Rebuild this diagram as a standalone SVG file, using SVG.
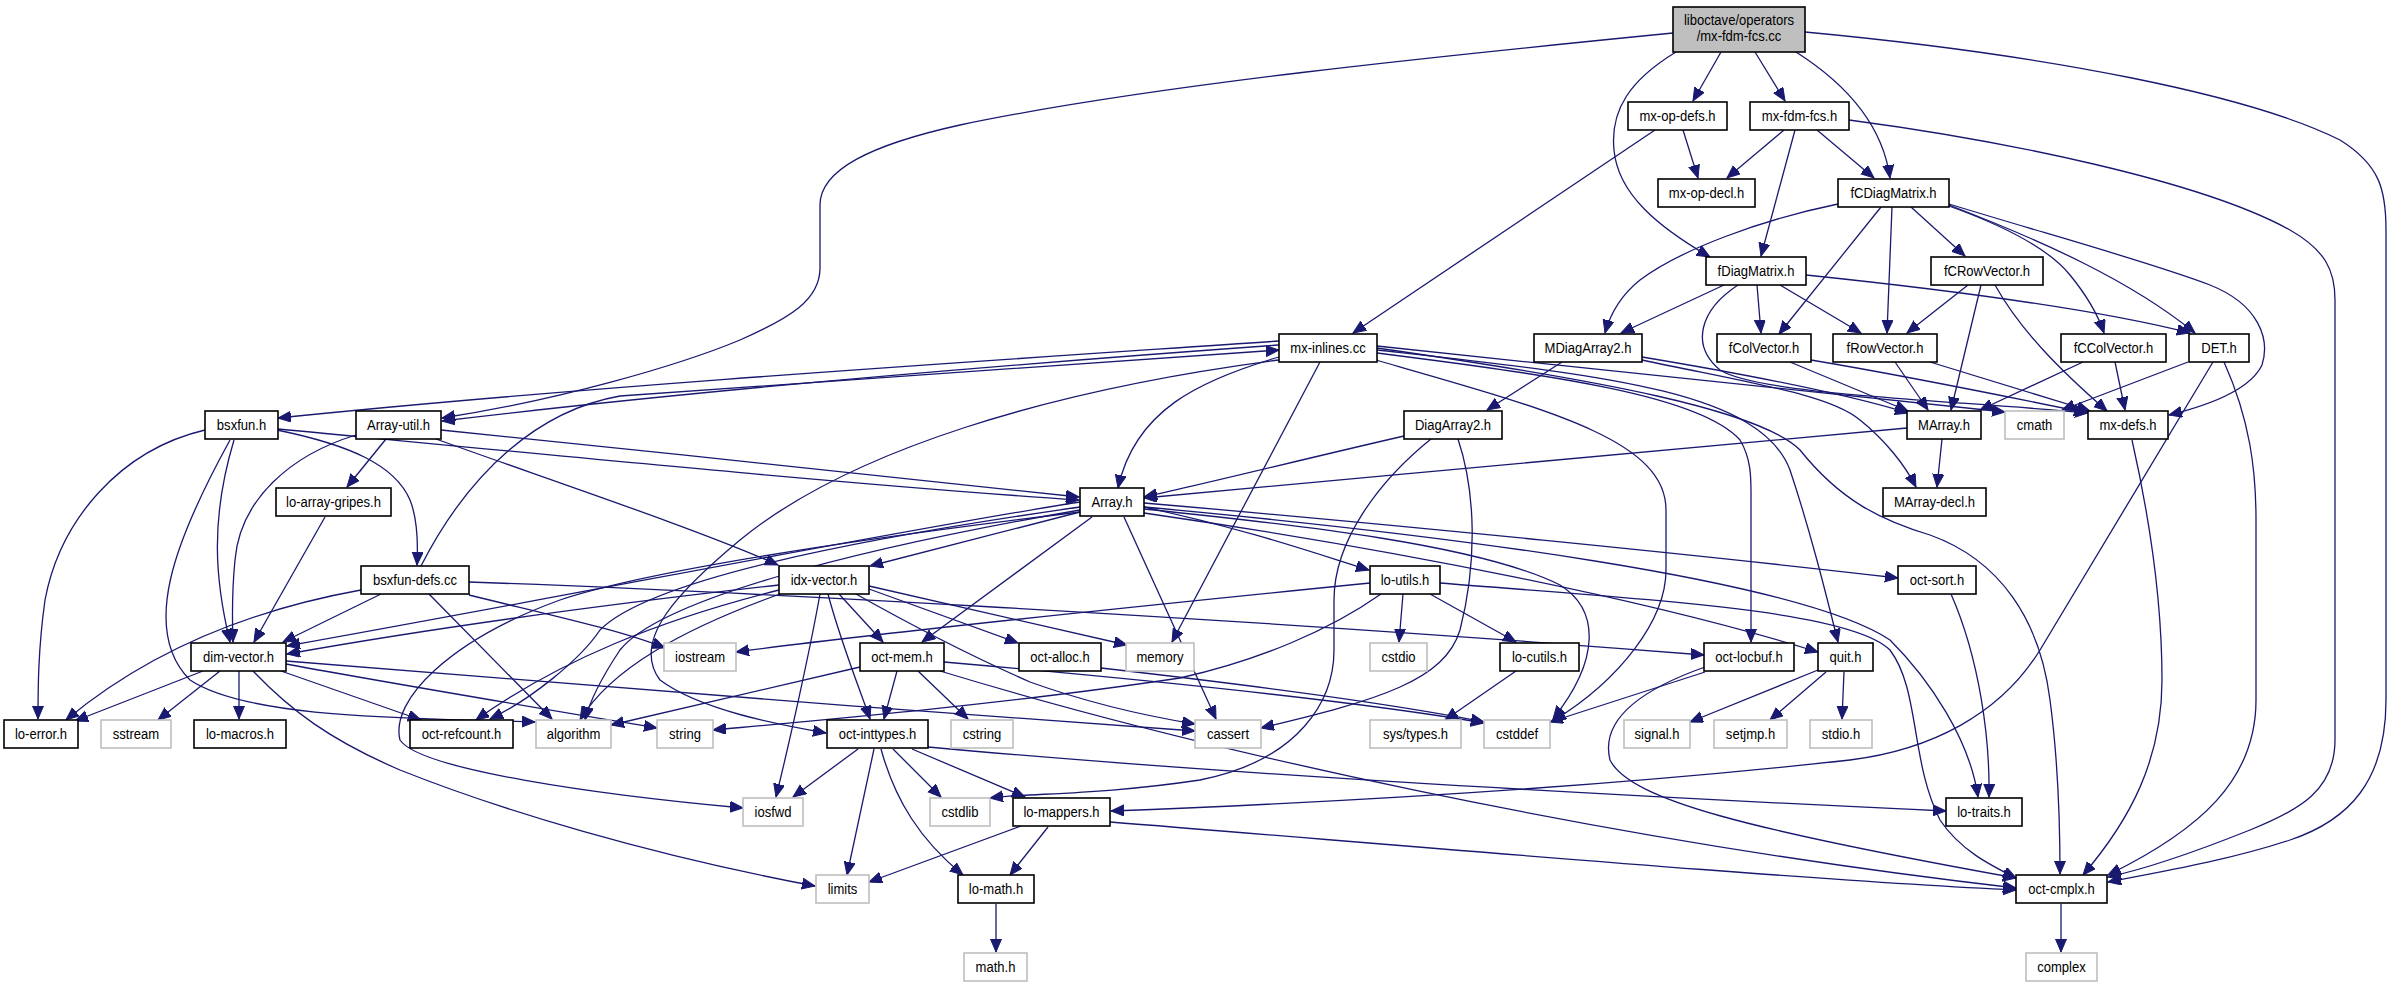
<svg xmlns="http://www.w3.org/2000/svg" width="2392" height="987" viewBox="0 0 2392 987">
<style>
.n rect{fill:#ffffff;stroke:#000000;stroke-width:1.6}
.g rect{fill:#ffffff;stroke:#bfbfbf;stroke-width:1.6}
.m rect{fill:#bfbfbf;stroke:#000000;stroke-width:1.6}
text{font-family:"Liberation Sans",Arial,Helvetica,sans-serif;font-size:14.5px;fill:#000000;text-anchor:middle}
#edges path{fill:none;stroke:#191970;stroke-width:1.3;marker-end:url(#arr)}
</style>
<defs>
<marker id="arr" markerUnits="userSpaceOnUse" markerWidth="15" markerHeight="13" refX="13" refY="5.5" orient="auto">
<path d="M0,0 L13,5.5 L0,11 Z" fill="#191970" stroke="#191970" stroke-width="1"/>
</marker>
</defs>
<rect x="0" y="0" width="2392" height="987" fill="#ffffff"/>
<g id="edges">
<path d="M1721,52 L1693,101"/>
<path d="M1755,52 L1785,101"/>
<path d="M1796,52 C1840,80 1882,120 1890,178"/>
<path d="M1676,52 C1630,80 1610,110 1614,150 C1618,195 1660,228 1710,257"/>
<path d="M1673,33 C1450,55 1150,85 960,125 C870,145 820,170 820,205 L820,268 C820,300 790,318 740,340 C680,365 560,400 442,418"/>
<path d="M1805,32 C2050,55 2250,95 2340,140 C2380,165 2386,190 2386,230 L2386,700 C2386,780 2350,820 2290,840 C2230,860 2160,872 2108,882"/>
<path d="M1683,130 L1698,178"/>
<path d="M1655,130 L1353,333"/>
<path d="M1784,130 L1727,178"/>
<path d="M1817,130 L1874,178"/>
<path d="M1795,130 L1761,256"/>
<path d="M1849,120 C2000,140 2200,180 2290,230 C2325,250 2335,270 2335,300 L2335,740 C2335,790 2300,810 2250,830 C2200,850 2150,868 2108,877"/>
<path d="M1838,204 C1760,220 1680,250 1640,280 C1620,296 1610,315 1605,333"/>
<path d="M1881,207 L1779,334"/>
<path d="M1892,207 L1887,333"/>
<path d="M1911,207 L1965,256"/>
<path d="M1949,206 C2010,228 2050,250 2070,275 C2088,297 2098,315 2104,333"/>
<path d="M1949,205 C2040,240 2130,280 2195,333"/>
<path d="M1949,204 C2050,235 2150,262 2210,285 C2260,305 2270,340 2262,365 C2250,390 2210,405 2169,415"/>
<path d="M1724,285 L1621,333"/>
<path d="M1757,285 L1761,333"/>
<path d="M1780,285 L1861,333"/>
<path d="M1806,275 C1950,290 2100,310 2190,333"/>
<path d="M1738,285 C1700,310 1690,345 1720,370 C1760,395 1950,400 2088,413"/>
<path d="M1968,285 L1907,333"/>
<path d="M1981,285 L1951,410"/>
<path d="M1995,285 C2020,330 2060,370 2107,411"/>
<path d="M1279,341 C1000,360 600,385 278,418"/>
<path d="M1279,345 C1000,365 700,390 442,421"/>
<path d="M1279,357 C1200,380 1135,410 1118,488"/>
<path d="M1320,362 L1172,642"/>
<path d="M1279,360 C1050,390 850,450 740,540 C680,590 630,640 660,680 C700,710 780,725 826,733"/>
<path d="M1376,360 C1550,410 1666,440 1666,510 L1666,570 C1666,620 1620,680 1553,721"/>
<path d="M1377,353 C1550,375 1700,395 1740,440 C1752,460 1751,480 1751,500 L1751,642"/>
<path d="M1377,350 C1600,375 1760,390 1790,470 C1810,530 1825,590 1838,642"/>
<path d="M1377,348 C1600,380 1760,410 1800,450 C1840,500 1880,520 1930,535 C2000,560 2040,620 2050,700 C2058,760 2060,820 2060,874"/>
<path d="M1377,346 C1600,370 1850,395 2005,412"/>
<path d="M1562,362 L1487,410"/>
<path d="M1642,357 C1750,375 1850,395 1908,413"/>
<path d="M1642,360 C1760,385 1830,395 1860,420 C1885,440 1905,465 1916,487"/>
<path d="M1790,362 L1908,411"/>
<path d="M1811,360 C1900,375 2000,395 2087,413"/>
<path d="M1895,362 L1928,410"/>
<path d="M1930,362 L2090,411"/>
<path d="M2083,362 L1980,410"/>
<path d="M2115,362 L2125,410"/>
<path d="M2188,362 L2062,410"/>
<path d="M2213,362 L2040,650 C2000,715 1930,750 1850,760 C1650,782 1400,800 1111,811"/>
<path d="M2224,362 C2250,420 2256,470 2256,520 L2256,700 C2256,780 2200,830 2108,875"/>
<path d="M2132,440 C2150,520 2162,600 2162,680 C2162,760 2130,820 2083,875"/>
<path d="M278,429 C500,450 850,485 1079,500"/>
<path d="M277,430 C350,445 395,465 410,500 C418,520 418,545 417,565"/>
<path d="M234,440 C210,520 215,580 230,642"/>
<path d="M205,430 C120,450 60,520 45,600 C38,650 38,690 38,719"/>
<path d="M230,440 C175,540 140,630 190,680 C250,720 420,718 535,722"/>
<path d="M441,430 C650,450 900,480 1079,497"/>
<path d="M436,439 C550,480 700,530 778,565"/>
<path d="M386,439 L347,487"/>
<path d="M356,435 C290,455 240,500 235,560 C232,590 232,615 233,642"/>
<path d="M1404,436 C1300,460 1200,485 1144,497"/>
<path d="M1458,439 C1475,490 1478,560 1460,630 C1445,680 1380,700 1261,728"/>
<path d="M1431,439 C1380,480 1334,540 1334,600 L1334,650 C1334,700 1300,760 1200,780 C1100,795 1030,793 990,798"/>
<path d="M1907,428 C1700,445 1400,475 1144,498"/>
<path d="M1942,439 L1937,487"/>
<path d="M325,517 L254,642"/>
<path d="M1080,502 C900,530 600,590 287,646"/>
<path d="M1080,512 L870,566"/>
<path d="M1092,517 L922,642"/>
<path d="M1124,517 L1216,719"/>
<path d="M1144,507 C1250,530 1320,555 1369,570"/>
<path d="M1144,503 C1400,525 1700,555 1898,578"/>
<path d="M1144,507 C1450,535 1800,580 1890,640 C1930,680 1970,740 1978,797"/>
<path d="M1144,509 C1300,525 1480,545 1560,585 C1600,610 1600,660 1553,719"/>
<path d="M1144,513 C1400,550 1650,600 1818,652"/>
<path d="M1080,507 C850,540 650,580 600,630 C580,660 530,700 490,719"/>
<path d="M1080,510 C850,550 660,600 620,650 C600,680 590,700 585,720"/>
<path d="M1080,512 C850,540 650,570 560,600 C450,640 390,700 400,740 C420,770 600,795 743,808"/>
<path d="M1370,583 C1200,600 900,630 736,652"/>
<path d="M1381,594 C1330,630 1260,660 1180,678 C1000,705 800,722 713,730"/>
<path d="M1403,594 L1399,642"/>
<path d="M1430,594 L1516,642"/>
<path d="M1440,583 C1650,600 1850,610 1890,650 C1920,690 1910,760 1940,820 C1960,850 1990,865 2016,878"/>
<path d="M779,585 C600,605 450,625 287,654"/>
<path d="M779,590 C660,620 560,660 476,720"/>
<path d="M780,594 C680,630 610,670 580,720"/>
<path d="M820,594 C810,650 790,740 776,797"/>
<path d="M828,594 C840,640 860,690 870,719"/>
<path d="M839,594 L883,642"/>
<path d="M869,589 L1018,643"/>
<path d="M869,586 L1127,645"/>
<path d="M856,594 C920,630 980,660 1030,682 C1080,700 1140,715 1195,724"/>
<path d="M421,566 C470,470 540,410 620,396 C900,375 1150,360 1279,350"/>
<path d="M381,594 L283,642"/>
<path d="M361,590 C250,610 150,650 66,720"/>
<path d="M429,594 L552,719"/>
<path d="M469,595 C550,615 620,630 665,648"/>
<path d="M469,582 C700,590 1200,615 1704,655"/>
<path d="M1951,594 C1980,660 1990,740 1989,797"/>
<path d="M203,671 L75,721"/>
<path d="M220,671 L158,720"/>
<path d="M239,671 L239,719"/>
<path d="M281,671 L421,720"/>
<path d="M286,664 C400,685 550,710 657,728"/>
<path d="M286,661 C500,680 900,710 1195,731"/>
<path d="M253,671 C290,710 330,740 400,770 C500,810 650,855 815,886"/>
<path d="M860,667 L611,725"/>
<path d="M897,671 L884,719"/>
<path d="M918,671 L968,719"/>
<path d="M944,662 C1150,680 1350,700 1484,723"/>
<path d="M940,671 C1200,750 1600,840 2016,888"/>
<path d="M1101,668 C1250,685 1400,705 1484,722"/>
<path d="M1516,671 L1445,720"/>
<path d="M1705,672 L1550,722"/>
<path d="M1705,667 C1640,690 1600,720 1610,760 C1630,800 1750,830 2016,878"/>
<path d="M1818,670 L1690,722"/>
<path d="M1826,672 L1770,720"/>
<path d="M1844,672 L1842,719"/>
<path d="M858,749 L793,797"/>
<path d="M874,749 L847,875"/>
<path d="M881,749 C895,800 920,840 963,875"/>
<path d="M893,749 L941,797"/>
<path d="M912,749 L1025,797"/>
<path d="M928,747 C1200,772 1600,795 1946,811"/>
<path d="M1021,826 L869,882"/>
<path d="M1048,827 L1010,875"/>
<path d="M1110,822 C1400,845 1800,880 2016,890"/>
<path d="M996,904 L996,952"/>
<path d="M2061,904 L2061,952"/>
</g>
<g id="node-main" class="m"><rect x="1673" y="7" width="132" height="45"/><text transform="translate(1739,24.5) scale(0.9,1)">liboctave/operators</text><text transform="translate(1739,41) scale(0.9,1)">/mx-fdm-fcs.cc</text></g>
<g id="node-mx-op-defs" class="n"><rect x="1628" y="102" width="99" height="28"/><text transform="translate(1677.5,121) scale(0.9,1)">mx-op-defs.h</text></g>
<g id="node-mx-fdm-fcs" class="n"><rect x="1750" y="102" width="99" height="28"/><text transform="translate(1799.5,121) scale(0.9,1)">mx-fdm-fcs.h</text></g>
<g id="node-mx-op-decl" class="n"><rect x="1658" y="179" width="97" height="28"/><text transform="translate(1706.5,198) scale(0.9,1)">mx-op-decl.h</text></g>
<g id="node-fCDiagMatrix" class="n"><rect x="1838" y="179" width="111" height="28"/><text transform="translate(1893.5,198) scale(0.9,1)">fCDiagMatrix.h</text></g>
<g id="node-fDiagMatrix" class="n"><rect x="1706" y="257" width="100" height="28"/><text transform="translate(1756,276) scale(0.9,1)">fDiagMatrix.h</text></g>
<g id="node-fCRowVector" class="n"><rect x="1931" y="257" width="112" height="28"/><text transform="translate(1987,276) scale(0.9,1)">fCRowVector.h</text></g>
<g id="node-mx-inlines" class="n"><rect x="1279" y="334" width="98" height="28"/><text transform="translate(1328,353) scale(0.9,1)">mx-inlines.cc</text></g>
<g id="node-MDiagArray2" class="n"><rect x="1534" y="334" width="108" height="28"/><text transform="translate(1588,353) scale(0.9,1)">MDiagArray2.h</text></g>
<g id="node-fColVector" class="n"><rect x="1717" y="334" width="94" height="28"/><text transform="translate(1764,353) scale(0.9,1)">fColVector.h</text></g>
<g id="node-fRowVector" class="n"><rect x="1833" y="334" width="104" height="28"/><text transform="translate(1885,353) scale(0.9,1)">fRowVector.h</text></g>
<g id="node-fCColVector" class="n"><rect x="2061" y="334" width="105" height="28"/><text transform="translate(2113.5,353) scale(0.9,1)">fCColVector.h</text></g>
<g id="node-DET" class="n"><rect x="2189" y="334" width="60" height="28"/><text transform="translate(2219,353) scale(0.9,1)">DET.h</text></g>
<g id="node-bsxfun" class="n"><rect x="205" y="411" width="73" height="28"/><text transform="translate(241.5,430) scale(0.9,1)">bsxfun.h</text></g>
<g id="node-Array-util" class="n"><rect x="356" y="411" width="85" height="28"/><text transform="translate(398.5,430) scale(0.9,1)">Array-util.h</text></g>
<g id="node-DiagArray2" class="n"><rect x="1404" y="411" width="98" height="28"/><text transform="translate(1453,430) scale(0.9,1)">DiagArray2.h</text></g>
<g id="node-MArray" class="n"><rect x="1907" y="411" width="74" height="28"/><text transform="translate(1944,430) scale(0.9,1)">MArray.h</text></g>
<g id="node-cmath" class="g"><rect x="2005" y="411" width="59" height="28"/><text transform="translate(2034.5,430) scale(0.9,1)">cmath</text></g>
<g id="node-mx-defs" class="n"><rect x="2088" y="411" width="80" height="28"/><text transform="translate(2128,430) scale(0.9,1)">mx-defs.h</text></g>
<g id="node-lo-array-gripes" class="n"><rect x="276" y="488" width="115" height="28"/><text transform="translate(333.5,507) scale(0.9,1)">lo-array-gripes.h</text></g>
<g id="node-Array" class="n"><rect x="1080" y="488" width="64" height="28"/><text transform="translate(1112,507) scale(0.9,1)">Array.h</text></g>
<g id="node-MArray-decl" class="n"><rect x="1883" y="488" width="103" height="28"/><text transform="translate(1934.5,507) scale(0.9,1)">MArray-decl.h</text></g>
<g id="node-bsxfun-defs" class="n"><rect x="361" y="566" width="108" height="28"/><text transform="translate(415,585) scale(0.9,1)">bsxfun-defs.cc</text></g>
<g id="node-idx-vector" class="n"><rect x="779" y="566" width="90" height="28"/><text transform="translate(824,585) scale(0.9,1)">idx-vector.h</text></g>
<g id="node-lo-utils" class="n"><rect x="1370" y="566" width="70" height="28"/><text transform="translate(1405,585) scale(0.9,1)">lo-utils.h</text></g>
<g id="node-oct-sort" class="n"><rect x="1898" y="566" width="78" height="28"/><text transform="translate(1937,585) scale(0.9,1)">oct-sort.h</text></g>
<g id="node-dim-vector" class="n"><rect x="191" y="643" width="95" height="28"/><text transform="translate(238.5,662) scale(0.9,1)">dim-vector.h</text></g>
<g id="node-iostream" class="g"><rect x="664" y="643" width="72" height="28"/><text transform="translate(700,662) scale(0.9,1)">iostream</text></g>
<g id="node-oct-mem" class="n"><rect x="860" y="643" width="84" height="28"/><text transform="translate(902,662) scale(0.9,1)">oct-mem.h</text></g>
<g id="node-oct-alloc" class="n"><rect x="1019" y="643" width="82" height="28"/><text transform="translate(1060,662) scale(0.9,1)">oct-alloc.h</text></g>
<g id="node-memory" class="g"><rect x="1126" y="643" width="68" height="28"/><text transform="translate(1160,662) scale(0.9,1)">memory</text></g>
<g id="node-cstdio" class="g"><rect x="1370" y="643" width="57" height="28"/><text transform="translate(1398.5,662) scale(0.9,1)">cstdio</text></g>
<g id="node-lo-cutils" class="n"><rect x="1500" y="643" width="79" height="28"/><text transform="translate(1539.5,662) scale(0.9,1)">lo-cutils.h</text></g>
<g id="node-oct-locbuf" class="n"><rect x="1704" y="643" width="90" height="28"/><text transform="translate(1749,662) scale(0.9,1)">oct-locbuf.h</text></g>
<g id="node-quit" class="n"><rect x="1818" y="643" width="55" height="28"/><text transform="translate(1845.5,662) scale(0.9,1)">quit.h</text></g>
<g id="node-lo-error" class="n"><rect x="4" y="720" width="74" height="28"/><text transform="translate(41,739) scale(0.9,1)">lo-error.h</text></g>
<g id="node-sstream" class="g"><rect x="101" y="720" width="70" height="28"/><text transform="translate(136,739) scale(0.9,1)">sstream</text></g>
<g id="node-lo-macros" class="n"><rect x="194" y="720" width="92" height="28"/><text transform="translate(240,739) scale(0.9,1)">lo-macros.h</text></g>
<g id="node-oct-refcount" class="n"><rect x="410" y="720" width="103" height="28"/><text transform="translate(461.5,739) scale(0.9,1)">oct-refcount.h</text></g>
<g id="node-algorithm" class="g"><rect x="536" y="720" width="75" height="28"/><text transform="translate(573.5,739) scale(0.9,1)">algorithm</text></g>
<g id="node-string" class="g"><rect x="657" y="720" width="56" height="28"/><text transform="translate(685,739) scale(0.9,1)">string</text></g>
<g id="node-oct-inttypes" class="n"><rect x="827" y="720" width="101" height="28"/><text transform="translate(877.5,739) scale(0.9,1)">oct-inttypes.h</text></g>
<g id="node-cstring" class="g"><rect x="951" y="720" width="62" height="28"/><text transform="translate(982,739) scale(0.9,1)">cstring</text></g>
<g id="node-cassert" class="g"><rect x="1195" y="720" width="66" height="28"/><text transform="translate(1228,739) scale(0.9,1)">cassert</text></g>
<g id="node-sys-types" class="g"><rect x="1370" y="720" width="91" height="28"/><text transform="translate(1415.5,739) scale(0.9,1)">sys/types.h</text></g>
<g id="node-cstddef" class="g"><rect x="1484" y="720" width="66" height="28"/><text transform="translate(1517,739) scale(0.9,1)">cstddef</text></g>
<g id="node-signal" class="g"><rect x="1624" y="720" width="66" height="28"/><text transform="translate(1657,739) scale(0.9,1)">signal.h</text></g>
<g id="node-setjmp" class="g"><rect x="1714" y="720" width="73" height="28"/><text transform="translate(1750.5,739) scale(0.9,1)">setjmp.h</text></g>
<g id="node-stdio" class="g"><rect x="1810" y="720" width="62" height="28"/><text transform="translate(1841,739) scale(0.9,1)">stdio.h</text></g>
<g id="node-iosfwd" class="g"><rect x="743" y="798" width="60" height="28"/><text transform="translate(773,817) scale(0.9,1)">iosfwd</text></g>
<g id="node-cstdlib" class="g"><rect x="930" y="798" width="60" height="28"/><text transform="translate(960,817) scale(0.9,1)">cstdlib</text></g>
<g id="node-lo-mappers" class="n"><rect x="1013" y="798" width="97" height="28"/><text transform="translate(1061.5,817) scale(0.9,1)">lo-mappers.h</text></g>
<g id="node-lo-traits" class="n"><rect x="1946" y="798" width="76" height="28"/><text transform="translate(1984,817) scale(0.9,1)">lo-traits.h</text></g>
<g id="node-limits" class="g"><rect x="816" y="875" width="53" height="28"/><text transform="translate(842.5,894) scale(0.9,1)">limits</text></g>
<g id="node-lo-math" class="n"><rect x="958" y="875" width="76" height="28"/><text transform="translate(996,894) scale(0.9,1)">lo-math.h</text></g>
<g id="node-oct-cmplx" class="n"><rect x="2016" y="875" width="91" height="28"/><text transform="translate(2061.5,894) scale(0.9,1)">oct-cmplx.h</text></g>
<g id="node-math" class="g"><rect x="964" y="953" width="63" height="28"/><text transform="translate(995.5,972) scale(0.9,1)">math.h</text></g>
<g id="node-complex" class="g"><rect x="2026" y="953" width="71" height="28"/><text transform="translate(2061.5,972) scale(0.9,1)">complex</text></g>
</svg>
